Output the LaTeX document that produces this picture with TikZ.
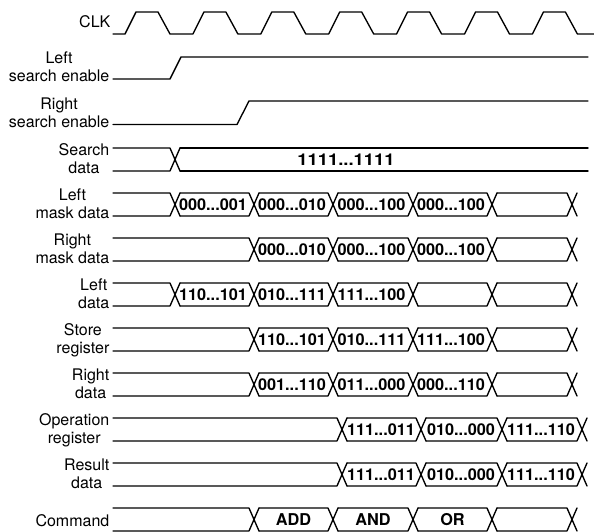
\documentclass[tikz,border=0pt]{standalone}
\usepackage{fontspec}
\setmainfont{TeX Gyre Heros}
\newcommand{\busrow}[3]{%
  \foreach \t [remember=\t as \last (initially 108)] in {#3}{
    \draw (\last+5,#1) -- (\t-5,#1) (\last+5,#2) -- (\t-5,#2)
          (\t-5,#1) -- (\t+5,#2) (\t-5,#2) -- (\t+5,#1);
  }}
\begin{document}
\begin{tikzpicture}[x=1pt,y=-1pt,line width=1.35pt,line cap=round,line join=round,
  lbl/.style={anchor=east,inner sep=0pt,align=center,font=\fontsize{16}{18}\selectfont},
  val/.style={inner sep=0pt,font=\fontsize{16.3}{18}\selectfont\bfseries}]
\useasboundingbox (0,0) rectangle (594,532);

% CLK
\node[lbl] (lclk) at (111,24.4) {CLK\strut};
\draw (113,34) -- (125,34)
  \foreach \k in {0,...,6}{
    -- ({125+67.9*\k+11},12) -- ({125+67.9*\k+33},12)
    -- ({125+67.9*\k+45},34) -- ({min(125+67.9*\k+67.9,594)},34)
  };

% Left search enable
\node[lbl] (llse) at (110,69) {Left\strut\\search enable\strut};
\draw (113,79) -- (170,79) -- (181,57) -- (588,57);

% Right search enable
\node[lbl] (lrse) at (110,114.5) {Right\strut\\search enable\strut};
\draw (113,124.5) -- (237,124.5) -- (249,101) -- (588,101);

% Search data
\node[lbl] (lsd) at (110,161) {Search\strut\\data\strut};
\busrow{148}{171}{175}
\draw (180,148) -- (588,148) (180,171) -- (588,171);
\node[val] (vsd) at (346,159.5) {\scalebox{1.13}[1]{1111...1111}};

% Left mask data
\node[lbl] (llm) at (110,206) {Left\strut\\mask data\strut};
\busrow{193}{216}{175,254,333,413,492,572}
\node[val] (vlm1) at (213,204.5) {000...001};
\node[val] (vlm2) at (292,204.5) {000...010};
\node[val] (vlm3) at (371.5,204.5) {000...100};
\node[val] (vlm4) at (451,204.5) {000...100};

% Right mask data
\node[lbl] (lrm) at (110,251) {Right\strut\\mask data\strut};
\busrow{238}{261}{254,333,413,492,572}
\node[val] (vrm1) at (292,249.5) {000...010};
\node[val] (vrm2) at (371.5,249.5) {000...100};
\node[val] (vrm3) at (451,249.5) {000...100};

% Left data
\node[lbl] (lld) at (110,296) {Left\strut\\data\strut};
\busrow{283}{306}{175,254,333,413,492,572}
\node[val] (vld1) at (213,294.5) {110...101};
\node[val] (vld2) at (292,294.5) {010...111};
\node[val] (vld3) at (371.5,294.5) {111...100};

% Store register
\node[lbl] (lsr) at (110,341) {Store\strut\\register\strut};
\busrow{328}{351}{254,333,413,492,572}
\node[val] (vsr1) at (292,339.5) {110...101};
\node[val] (vsr2) at (371.5,339.5) {010...111};
\node[val] (vsr3) at (451,339.5) {111...100};

% Right data
\node[lbl] (lrd) at (110,386) {Right\strut\\data\strut};
\busrow{373}{396}{254,333,413,492,572}
\node[val] (vrd1) at (292,384.5) {001...110};
\node[val] (vrd2) at (371.5,384.5) {011...000};
\node[val] (vrd3) at (451,384.5) {000...110};

% Operation register
\node[lbl] (lor) at (110,431) {Operation\strut\\register\strut};
\busrow{418}{441}{342,421,502,582}
\node[val] (vor1) at (381,429.5) {111...011};
\node[val] (vor2) at (461,429.5) {010...000};
\node[val] (vor3) at (541,429.5) {111...110};

% Result data
\node[lbl] (lres) at (110,476) {Result\strut\\data\strut};
\busrow{463}{486}{342,421,502,582}
\node[val] (vres1) at (381,474.5) {111...011};
\node[val] (vres2) at (461,474.5) {010...000};
\node[val] (vres3) at (541,474.5) {111...110};

% Command
\node[lbl] (lcmd) at (110,522.4) {Command\strut};
\busrow{508}{531}{254,333,413,492,572}
\node[val] (vc1) at (293.5,519.5) {ADD};
\node[val] (vc2) at (373,519.5) {AND};
\node[val] (vc3) at (452.5,519.5) {OR};
\end{tikzpicture}
\end{document}
